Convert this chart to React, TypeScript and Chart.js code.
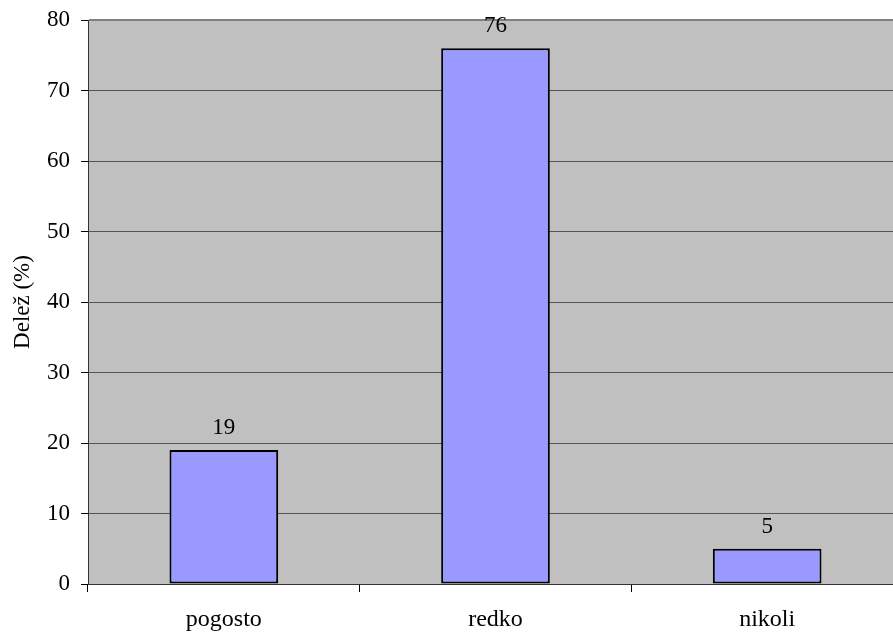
import React, { useEffect, useRef } from "react";
import { Chart, registerables } from "chart.js";

Chart.register(...registerables);

const categories = ["pogosto", "redko", "nikoli"];
const shares = [19, 76, 5];
const yTicks = [0, 10, 20, 30, 40, 50, 60, 70, 80];
const yTitle = "Delež (%)";

const FONT = "'Liberation Serif', 'Times New Roman', serif";

const plotFrame = {
  id: "plotFrame",
  beforeDraw(chart: any) {
    const { ctx, chartArea } = chart;
    ctx.save();
    ctx.fillStyle = "#C0C0C0";
    ctx.fillRect(chartArea.left, chartArea.top, chartArea.right - chartArea.left, chartArea.bottom - chartArea.top);
    ctx.restore();
  },
  afterDraw(chart: any) {
    const { ctx, chartArea } = chart;
    ctx.save();
    // light top edge of the plot frame
    ctx.strokeStyle = "#808080";
    ctx.lineWidth = 2;
    ctx.beginPath();
    ctx.moveTo(chartArea.left + 1, chartArea.top);
    ctx.lineTo(chartArea.right, chartArea.top);
    ctx.stroke();
    // value labels above the bars
    const meta = chart.getDatasetMeta(0);
    const data = chart.data.datasets[0].data as number[];
    ctx.fillStyle = "#000";
    ctx.font = `23px ${FONT}`;
    ctx.textAlign = "center";
    ctx.textBaseline = "alphabetic";
    meta.data.forEach((bar: any, i: number) => {
      ctx.fillText(String(data[i]), bar.x, bar.y - 16);
    });
    ctx.restore();
  },
};

export default function App() {
  const ref = useRef<HTMLCanvasElement | null>(null);

  useEffect(() => {
    if (!ref.current) return;
    const chart = new Chart(ref.current, {
      type: "bar",
      data: {
        labels: categories,
        datasets: [
          {
            data: shares,
            backgroundColor: "#9999FF",
            borderColor: "#000000",
            borderWidth: 2,
            borderSkipped: false,
            categoryPercentage: 0.4,
            barPercentage: 1,
          },
        ],
      },
      options: {
        responsive: false,
        animation: false,
        devicePixelRatio: 1,
        layout: { padding: { top: 20, left: 0, right: 0, bottom: 0 } },
        plugins: {
          legend: { display: false },
          tooltip: { enabled: false },
        },
        scales: {
          x: {
            offset: true,
            afterFit(scale: any) {
              scale.height = 51;
            },
            grid: {
              offset: true,
              drawOnChartArea: false,
              drawTicks: true,
              tickLength: 8,
              color: "#000000",
            },
            border: { display: true, color: "#333333", width: 1 },
            ticks: {
              color: "#000000",
              padding: 13,
              font: { family: FONT, size: 24 },
            },
          },
          y: {
            min: 0,
            max: 80,
            afterFit(scale: any) {
              scale.width = 88;
              scale.paddingTop = 0;
              scale.paddingBottom = 0;
            },
            afterBuildTicks(scale: any) {
              scale.ticks = yTicks.map((v) => ({ value: v }));
            },
            grid: {
              color: "#555555",
              lineWidth: 1,
              drawTicks: true,
              tickLength: 7,
              tickColor: "#000000",
            },
            border: { display: true, color: "#333333", width: 1 },
            ticks: {
              color: "#000000",
              padding: 11,
              font: { family: FONT, size: 23 },
            },
            title: {
              display: true,
              text: yTitle,
              color: "#000000",
              font: { family: FONT, size: 23 },
              padding: { top: 9, bottom: 0 },
            },
          },
        },
      },
      plugins: [plotFrame],
    });
    return () => chart.destroy();
  }, []);

  return (
    <div
      style={{
        position: "fixed",
        left: 0,
        top: 0,
        width: 893,
        height: 635,
        overflow: "hidden",
        background: "#ffffff",
      }}
    >
      <canvas ref={ref} width={903} height={635} style={{ display: "block" }} />
    </div>
  );
}
